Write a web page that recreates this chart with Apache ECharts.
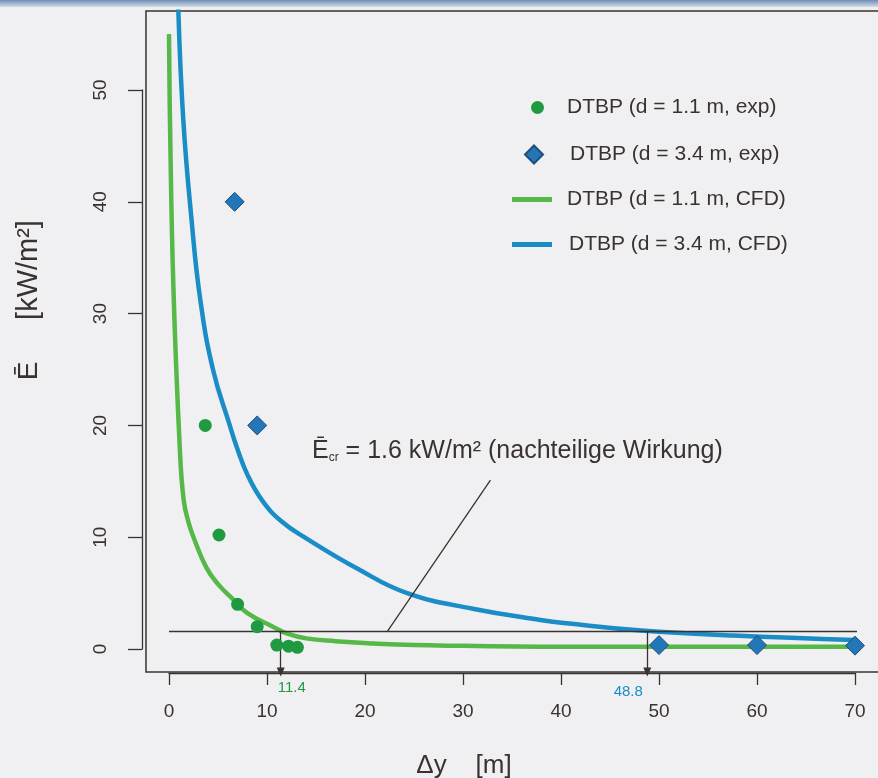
<!DOCTYPE html>
<html><head><meta charset="utf-8">
<script src="https://cdn.jsdelivr.net/npm/echarts@6/dist/echarts.min.js"></script>
<style>html,body{margin:0;padding:0;background:#f0f0f2}#c{width:878px;height:778px}</style>
</head><body><div id="c"></div>
<script>
// ---- data ----
const expSmallX = [3.7, 5.1, 7.0, 9.0, 11.0, 12.2, 13.1];
const expSmallY = [20.0, 10.2, 4.0, 2.0, 0.35, 0.25, 0.15];
const expLargeX = [6.7, 9.0, 50, 60, 70];
const expLargeY = [40, 20, 0.35, 0.35, 0.3];
const cfdSmallX = [0, 0.1, 0.45, 1.1, 1.5, 2.0, 2.5, 3.8, 5, 6.6, 8, 10.6, 12, 14, 17, 20.8, 25, 30, 38, 50, 60, 70];
const cfdSmallY = [55, 47.2, 32.3, 18, 13.3, 11.3, 10, 7.3, 5.8, 4.4, 3.2, 2.0, 1.4, 0.95, 0.7, 0.5, 0.35, 0.28, 0.2, 0.2, 0.2, 0.2];
const cfdLargeX = [0.95, 1.46, 2.3, 3.2, 4.5, 6.2, 6.9, 8.0, 9.5, 11.5, 14, 19.2, 24.3, 31, 37.9, 40.6, 48.2, 57.6, 70];
const cfdLargeY = [57.2, 47.3, 38.4, 31.2, 24.95, 20.0, 18.1, 15.6, 13.3, 11.4, 9.9, 7.2, 5.0, 3.6, 2.6, 2.3, 1.65, 1.2, 0.8];
const Ecr = 1.6;
const crossX = [11.4, 48.8];
const thresholdEndX = 70.2;
const leaderFrom = [22.3, Ecr];
const leaderTo = [32.8, 15.1];
const xTicks = [0, 10, 20, 30, 40, 50, 60, 70];
const yTicks = [0, 10, 20, 30, 40, 50];
const names = ['DTBP (d = 1.1 m, exp)', 'DTBP (d = 3.4 m, exp)', 'DTBP (d = 1.1 m, CFD)', 'DTBP (d = 3.4 m, CFD)'];

const zip = (a, b) => a.map((v, i) => [v, b[i]]);
const INK = '#3a3230';
const FONT = '"Liberation Sans", Arial, sans-serif';
const GREEN_DOT = '#1f9a40', GREEN_LINE = '#55b848', BLUE_LINE = '#1a8cc6', BLUE_DIA = '#2377b9';

const xMin = -2.347, xMax = 73.16, yMin = -2.057, yMax = 57.07;

const chart = echarts.init(document.getElementById('c'), null, {renderer: 'canvas'});

const legendText = (pad) => ({fontSize: 21, color: INK, fontFamily: FONT, padding: [0, 0, 0, pad]});
const legendBase = {orient: 'vertical', padding: 0, selectedMode: false};

chart.setOption({
  backgroundColor: '#f0f0f2',
  animation: false,
  grid: [
    {left: 146, top: 11, width: 740, height: 661, show: true, borderColor: INK, borderWidth: 1.5, backgroundColor: 'transparent', outerBoundsMode: 'none', containLabel: false},
    {left: 142, top: 90, width: 1, height: 559, outerBoundsMode: 'none', containLabel: false},
    {left: 169, top: 663, width: 686, height: 10, outerBoundsMode: 'none', containLabel: false}
  ],
  xAxis: [
    {gridIndex: 0, type: 'value', min: xMin, max: xMax, show: false},
    {gridIndex: 1, type: 'value', min: 0, max: 1, show: false},
    {gridIndex: 2, type: 'value', min: 0, max: 70, interval: 10, position: 'bottom',
      axisLine: {show: true, lineStyle: {color: INK, width: 1.3}},
      axisTick: {show: true, length: 12, lineStyle: {color: INK, width: 1.3}, customValues: xTicks},
      axisLabel: {show: true, margin: 29, fontSize: 19, color: INK, fontFamily: FONT, customValues: xTicks},
      splitLine: {show: false}}
  ],
  yAxis: [
    {gridIndex: 0, type: 'value', min: yMin, max: yMax, show: false},
    {gridIndex: 1, type: 'value', min: 0, max: 50, interval: 10, position: 'left',
      axisLine: {show: true, lineStyle: {color: INK, width: 1.3}},
      axisTick: {show: true, length: 14, lineStyle: {color: INK, width: 1.3}, customValues: yTicks},
      axisLabel: {show: true, rotate: 90, margin: 32, fontSize: 19, color: INK, fontFamily: FONT, customValues: yTicks},
      splitLine: {show: false}},
    {gridIndex: 2, type: 'value', min: 0, max: 1, show: false}
  ],
  legend: [
    Object.assign({}, legendBase, {data: [{name: names[0], icon: 'circle'}], left: 531, top: 97, itemWidth: 13, itemHeight: 13, textStyle: legendText(18)}),
    Object.assign({}, legendBase, {data: [{name: names[1], icon: 'diamond'}], left: 524, top: 144, itemWidth: 18, itemHeight: 18, textStyle: legendText(22)}),
    Object.assign({}, legendBase, {data: [{name: names[2], icon: 'rect'}], left: 512, top: 189, itemWidth: 40, itemHeight: 5, textStyle: legendText(10)}),
    Object.assign({}, legendBase, {data: [{name: names[3], icon: 'rect'}], left: 512, top: 234, itemWidth: 40, itemHeight: 5, textStyle: legendText(12)})
  ],
  series: [
    {name: names[2], type: 'line', xAxisIndex: 0, yAxisIndex: 0, data: zip(cfdSmallX, cfdSmallY),
      symbol: 'none', showSymbol: false, smooth: 0.45, z: 3,
      lineStyle: {color: GREEN_LINE, width: 4.5}, itemStyle: {color: GREEN_LINE}},
    {name: names[3], type: 'line', xAxisIndex: 0, yAxisIndex: 0, data: zip(cfdLargeX, cfdLargeY),
      symbol: 'none', showSymbol: false, smooth: 0.45, z: 3,
      lineStyle: {color: BLUE_LINE, width: 4.5}, itemStyle: {color: BLUE_LINE}},
    {name: 'annot', type: 'line', xAxisIndex: 0, yAxisIndex: 0, data: [], z: 2, symbol: 'none',
      markLine: {
        silent: true, symbol: ['none', 'none'], animation: false,
        lineStyle: {color: INK, width: 1.3, type: 'solid'}, label: {show: false},
        data: [
          [{coord: [0, Ecr]}, {coord: [thresholdEndX, Ecr]}],
          [{coord: leaderFrom}, {coord: leaderTo}],
          [{coord: [crossX[0], Ecr]}, {coord: [crossX[0], yMin], symbol: 'triangle', symbolSize: [8, 9]}],
          [{coord: [crossX[1], Ecr]}, {coord: [crossX[1], yMin], symbol: 'triangle', symbolSize: [8, 9]}]
        ]
      },
      markPoint: {
        silent: true, symbol: 'circle', symbolSize: 0, animation: false,
        data: [
          {coord: [crossX[0], yMin], label: {show: true, formatter: String(crossX[0]), color: GREEN_DOT, fontSize: 15, fontFamily: FONT, offset: [11, 16]}},
          {coord: [crossX[1], yMin], label: {show: true, formatter: String(crossX[1]), color: BLUE_LINE, fontSize: 15, fontFamily: FONT, offset: [-19, 20]}}
        ]
      }
    },
    {name: names[0], type: 'scatter', xAxisIndex: 0, yAxisIndex: 0, data: zip(expSmallX, expSmallY),
      symbol: 'circle', symbolSize: 13, z: 5, itemStyle: {color: GREEN_DOT, opacity: 1}},
    {name: names[1], type: 'scatter', xAxisIndex: 0, yAxisIndex: 0, data: zip(expLargeX, expLargeY),
      symbol: 'diamond', symbolSize: 19, z: 5, itemStyle: {color: BLUE_DIA, borderColor: '#1f4d7a', borderWidth: 1, opacity: 1}}
  ],
  graphic: [
    {type: 'rect', shape: {x: 0, y: 0, width: 878, height: 7}, silent: true,
      style: {fill: new echarts.graphic.LinearGradient(0, 0, 0, 1, [{offset: 0, color: '#6f8fb8'}, {offset: 1, color: '#d2dbe6'}])}},
    {type: 'text', x: 29, y: 371, rotation: Math.PI / 2, silent: true,
      style: {text: 'Ē', fontSize: 28, fontFamily: FONT, fill: INK, align: 'center', verticalAlign: 'middle'}},
    {type: 'text', x: 29, y: 270, rotation: Math.PI / 2, silent: true,
      style: {text: '[kW/m²]', fontSize: 29, fontFamily: FONT, fill: INK, align: 'center', verticalAlign: 'middle'}},
    {type: 'text', x: 464, y: 766, silent: true,
      style: {text: 'Δy    [m]', fontSize: 26, fontFamily: FONT, fill: INK, align: 'center', verticalAlign: 'middle'}},
    {type: 'text', x: 312, y: 451, silent: true,
      style: {text: '{e|Ē}{s|cr}{t| = ' + Ecr + ' kW/m² (nachteilige Wirkung)}', align: 'left', verticalAlign: 'middle',
        rich: {
          e: {fontSize: 25, fontFamily: FONT, fill: INK, color: INK},
          s: {fontSize: 12, fontFamily: FONT, fill: INK, color: INK, verticalAlign: 'bottom', padding: [11, 0, 0, 0]},
          t: {fontSize: 25, fontFamily: FONT, fill: INK, color: INK}
        }}}
  ]
});
</script></body></html>
